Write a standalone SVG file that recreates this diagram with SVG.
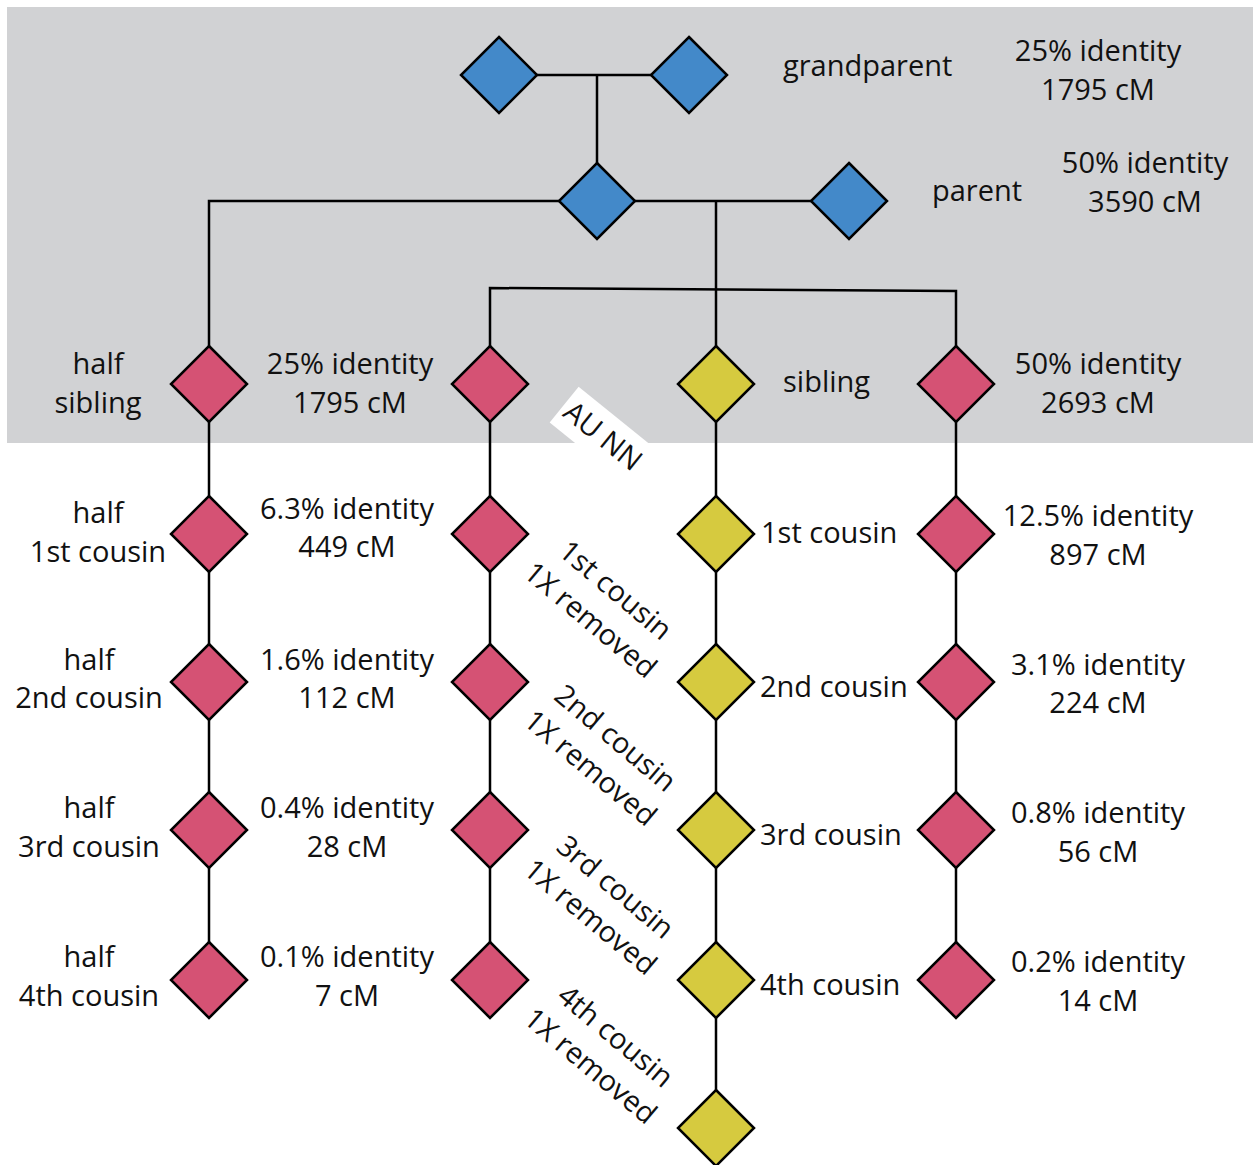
<svg xmlns="http://www.w3.org/2000/svg" width="1253" height="1165" viewBox="0 0 1253 1165">
<defs>
<style>
text{font-family:"Open Sans","Noto Sans","Liberation Sans",sans-serif;font-size:29px;fill:#111;}
.m{text-anchor:middle;}
.ln{stroke:#000;stroke-width:2.5;fill:none;}
.d{stroke:#000;stroke-width:2.5;stroke-linejoin:miter;}
.b{fill:#4389c9;}
.p{fill:#d55274;}
.y{fill:#d6ca3f;}
</style>
<polygon id="dm" points="0,-38 38,0 0,38 -38,0"/>
</defs>
<rect x="7" y="7" width="1246" height="436" fill="#d1d2d4"/>
<g id="connectors" class="ln">
<line x1="537" y1="75" x2="651" y2="75"/>
<line x1="597" y1="75" x2="597" y2="163"/>
<polyline points="559,201 209,201 209,980"/>
<line x1="635" y1="201" x2="811" y2="201"/>
<line x1="716" y1="201" x2="716" y2="1128"/>
<polyline points="490,980 490,288 956,291 956,980"/>
</g>
<g id="grandparent1"><use href="#dm" x="499" y="75" class="d b"/></g>
<g id="grandparent2"><use href="#dm" x="689" y="75" class="d b"/></g>
<g id="parent1"><use href="#dm" x="597" y="201" class="d b"/></g>
<g id="parent2"><use href="#dm" x="849" y="201" class="d b"/></g>
<g id="halfcol">
<use href="#dm" x="209" y="384" class="d p"/>
<use href="#dm" x="209" y="534" class="d p"/>
<use href="#dm" x="209" y="682" class="d p"/>
<use href="#dm" x="209" y="830" class="d p"/>
<use href="#dm" x="209" y="980" class="d p"/>
</g>
<g id="removedcol">
<use href="#dm" x="490" y="384" class="d p"/>
<use href="#dm" x="490" y="534" class="d p"/>
<use href="#dm" x="490" y="682" class="d p"/>
<use href="#dm" x="490" y="830" class="d p"/>
<use href="#dm" x="490" y="980" class="d p"/>
</g>
<g id="selfcol">
<use href="#dm" x="716" y="384" class="d y"/>
<use href="#dm" x="716" y="534" class="d y"/>
<use href="#dm" x="716" y="682" class="d y"/>
<use href="#dm" x="716" y="830" class="d y"/>
<use href="#dm" x="716" y="980" class="d y"/>
<use href="#dm" x="716" y="1128" class="d y"/>
</g>
<g id="fullcol">
<use href="#dm" x="956" y="384" class="d p"/>
<use href="#dm" x="956" y="534" class="d p"/>
<use href="#dm" x="956" y="682" class="d p"/>
<use href="#dm" x="956" y="830" class="d p"/>
<use href="#dm" x="956" y="980" class="d p"/>
</g>
<g id="labels">
<text x="783" y="76">grandparent</text>
<text class="m" x="1098" y="61">25% identity</text>
<text class="m" x="1098" y="100">1795 cM</text>
<text x="932" y="201">parent</text>
<text class="m" x="1145" y="173">50% identity</text>
<text class="m" x="1145" y="212">3590 cM</text>

<text class="m" x="98" y="374">half</text>
<text class="m" x="98" y="413">sibling</text>
<text class="m" x="350" y="374">25% identity</text>
<text class="m" x="350" y="413">1795 cM</text>
<text x="783" y="392">sibling</text>
<text class="m" x="1098" y="374">50% identity</text>
<text class="m" x="1098" y="413">2693 cM</text>

<text class="m" x="98" y="523">half</text>
<text class="m" x="98" y="562">1st cousin</text>
<text class="m" x="347" y="519">6.3% identity</text>
<text class="m" x="347" y="557">449 cM</text>
<text x="761" y="543">1st cousin</text>
<text class="m" x="1098" y="526">12.5% identity</text>
<text class="m" x="1098" y="565">897 cM</text>

<text class="m" x="89" y="670">half</text>
<text class="m" x="89" y="708">2nd cousin</text>
<text class="m" x="347" y="670">1.6% identity</text>
<text class="m" x="347" y="708">112 cM</text>
<text x="760" y="697">2nd cousin</text>
<text class="m" x="1098" y="675">3.1% identity</text>
<text class="m" x="1098" y="713">224 cM</text>

<text class="m" x="89" y="818">half</text>
<text class="m" x="89" y="857">3rd cousin</text>
<text class="m" x="347" y="818">0.4% identity</text>
<text class="m" x="347" y="857">28 cM</text>
<text x="760" y="845">3rd cousin</text>
<text class="m" x="1098" y="823">0.8% identity</text>
<text class="m" x="1098" y="862">56 cM</text>

<text class="m" x="89" y="967">half</text>
<text class="m" x="89" y="1006">4th cousin</text>
<text class="m" x="347" y="967">0.1% identity</text>
<text class="m" x="347" y="1006">7 cM</text>
<text x="760" y="995">4th cousin</text>
<text class="m" x="1098" y="972">0.2% identity</text>
<text class="m" x="1098" y="1011">14 cM</text>
</g>
<g id="aunn" transform="translate(603,436) rotate(39)">
<rect x="-50" y="-23" width="100" height="46" fill="#fff"/>
<text class="m" x="0" y="10">AU NN</text>
</g>
<g id="removedlabels" class="m">
<text class="m" transform="translate(603,605) rotate(40)"><tspan x="0" y="-9.5">1st cousin</tspan><tspan x="0" y="29.5">1X removed</tspan></text>
<text class="m" transform="translate(603,753) rotate(40)"><tspan x="0" y="-9.5">2nd cousin</tspan><tspan x="0" y="29.5">1X removed</tspan></text>
<text class="m" transform="translate(603,902) rotate(40)"><tspan x="0" y="-9.5">3rd cousin</tspan><tspan x="0" y="29.5">1X removed</tspan></text>
<text class="m" transform="translate(603,1051) rotate(40)"><tspan x="0" y="-9.5">4th cousin</tspan><tspan x="0" y="29.5">1X removed</tspan></text>
</g>
</svg>
